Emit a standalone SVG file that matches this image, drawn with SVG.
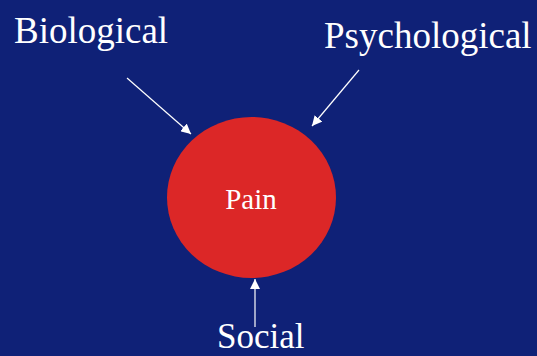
<svg xmlns="http://www.w3.org/2000/svg" width="537" height="356" viewBox="0 0 537 356">
<defs>
<marker id="ah" viewBox="0 0 10 10" refX="10" refY="5" markerWidth="10" markerHeight="10" markerUnits="userSpaceOnUse" orient="auto">
<path d="M0,0 L10,5 L0,10 z" fill="#ffffff"/>
</marker>
<style>
.lbl{font-family:"Liberation Serif","Times New Roman",serif;fill:#ffffff;font-size:37px}
.conn{stroke:#ffffff;stroke-width:1.2;fill:none;marker-end:url(#ah)}
</style>
</defs>
<rect width="537" height="356" fill="#0F2177"/>
<g id="connectors">
<line class="conn" x1="127" y1="78" x2="191" y2="134"/>
<line class="conn" x1="359" y1="70" x2="312" y2="126"/>
<line class="conn" x1="255" y1="327" x2="255" y2="279"/>
</g>
<g id="pain">
<ellipse cx="251.5" cy="197.5" rx="84.5" ry="80.5" fill="#DC2727"/>
<text class="lbl" x="251" y="209" text-anchor="middle" style="font-size:29px">Pain</text>
</g>
<g id="biological"><text class="lbl" x="14" y="43">Biological</text></g>
<g id="psychological"><text class="lbl" x="324" y="48">Psychological</text></g>
<g id="social"><text class="lbl" x="217" y="348" style="font-size:35px">Social</text></g>
</svg>
